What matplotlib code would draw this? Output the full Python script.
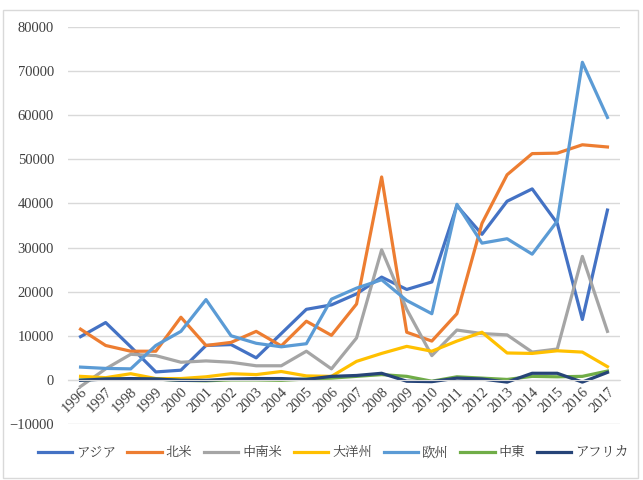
import numpy as np
import matplotlib
matplotlib.use('Agg')
import matplotlib.pyplot as plt
from matplotlib.patches import Rectangle
from matplotlib.font_manager import FontProperties

fam = ['Liberation Serif', 'BIZ UDMincho', 'Noto Sans CJK JP']
plt.rcParams['font.family'] = fam

years = [str(y) for y in range(1996, 2018)]

asia = [9800, 13000, 7500, 1800, 2200, 7800, 8000, 5000, 10500, 16000, 17000,
        19500, 23300, 20500, 22200, 39500, 33000, 40500, 43300, 35500, 13700, 38500]
north_america = [11500, 7800, 6500, 6500, 14200, 7800, 8500, 11000, 7700, 13300, 10100,
                 17200, 46000, 10800, 8800, 15000, 35500, 46500, 51300, 51400, 53300, 52800]
latin_america = [-1500, 2500, 5800, 5500, 4000, 4300, 4000, 3200, 3200, 6500, 2500,
                 9500, 29500, 16000, 5500, 11300, 10500, 10200, 6300, 7000, 28000, 11000]
oceania = [800, 500, 1400, 300, 300, 700, 1400, 1200, 1900, 900, 800,
           4200, 6000, 7600, 6500, 8800, 10800, 6100, 6000, 6600, 6300, 3000]
europe = [2900, 2600, 2500, 7800, 11000, 18200, 10000, 8300, 7500, 8200, 18300,
          20800, 22700, 18000, 15000, 39800, 31000, 32000, 28500, 36000, 72000, 59500]
middle_east = [0, 200, 200, 200, -100, -200, 0, 0, -100, 200, 400,
               800, 1200, 800, -300, 700, 400, 100, 800, 700, 800, 2000]
africa = [-100, 200, 300, 200, -100, -100, 200, 300, 300, 100, 800,
          1000, 1500, -300, -400, 400, 200, -500, 1500, 1500, -500, 1700]

series = [('アジア', asia, '#4472C4'),
          ('北米', north_america, '#ED7D31'),
          ('中南米', latin_america, '#A5A5A5'),
          ('大洋州', oceania, '#FFC000'),
          ('欧州', europe, '#5B9BD5'),
          ('中東', middle_east, '#70AD47'),
          ('アフリカ', africa, '#264478')]

fig = plt.figure(figsize=(6.43, 4.80), dpi=100)
fig.patches.append(Rectangle((3/643, 2/480), 635/643, 468/480, transform=fig.transFigure,
                             fill=False, edgecolor='#d9d9d9', lw=1))
ax = fig.add_axes([68/643, 1-424/480, 552/643, 397/480])

x = np.arange(len(years))
for name, vals, col in series:
    ax.plot(x, vals, color=col, lw=2.3, label=name)

ax.set_xlim(-0.5, len(years)-0.5)
ax.set_ylim(-10000, 80000)
ax.set_yticks(np.arange(-10000, 80001, 10000))
ax.grid(True, axis='y', color='#d9d9d9', lw=1)
ax.set_axisbelow(True)
for s in ['top', 'right', 'left']:
    ax.spines[s].set_visible(False)
ax.spines['bottom'].set_position(('data', 0))
ax.spines['bottom'].set_color('#d9d9d9')
ax.set_xticks(x)
ax.set_xticklabels(years, rotation=45, ha='right', va='top', rotation_mode='anchor')
ax.tick_params(axis='x', length=0, pad=4, labelsize=10.5, labelcolor='#404040')
ax.tick_params(axis='y', length=0, pad=10, labelsize=10.5, labelcolor='#404040')
for lab in ax.get_xticklabels() + ax.get_yticklabels():
    lab.set_family(fam)

ax.legend(loc='center', bbox_to_anchor=(0.48, -(453-424)/397), ncol=7,
          frameon=False, prop=FontProperties(family=fam, size=9.5), handlelength=2.6,
          columnspacing=0.9, handletextpad=0.3, labelcolor='#404040')

plt.savefig('out.png')
